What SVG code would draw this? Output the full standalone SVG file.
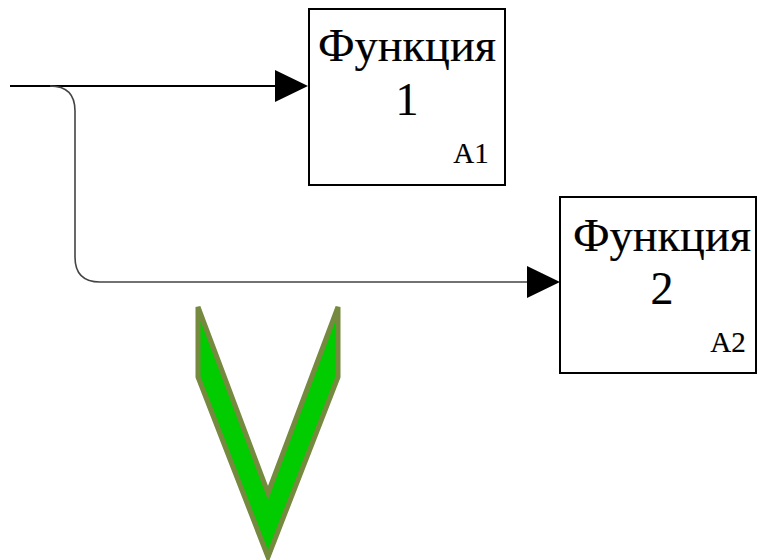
<svg xmlns="http://www.w3.org/2000/svg" width="757" height="560" viewBox="0 0 757 560">
<style>
.box{fill:#fff;stroke:#000;stroke-width:2}
.t{font-family:'Liberation Serif','DejaVu Serif',serif;fill:#000;text-anchor:middle;stroke:#000;stroke-width:0.2}
.big{font-size:46px}
.small{font-size:29px}
.ah{fill:#000}
</style>
<rect width="757" height="560" fill="#fff"/>
<g id="connectors">
<path d="M10,86 H276" fill="none" stroke="#000" stroke-width="2"/>
<polygon class="ah" points="275,70 308,86 275,102"/>
<path d="M50,86 Q75,86 75,111 V257 Q75,282 100,282 H528" fill="none" stroke="#444" stroke-width="1.6"/>
<polygon class="ah" points="527,266 560,282 527,298"/>
</g>
<g id="node-a1">
<rect class="box" x="309" y="9" width="196" height="176"/>
<text class="t big" x="407" y="61" textLength="178" lengthAdjust="spacingAndGlyphs">Функция</text>
<text class="t big" x="407" y="115">1</text>
<text class="t small" x="471" y="163">A1</text>
</g>
<g id="node-a2">
<rect class="box" x="560" y="197" width="196" height="176"/>
<text class="t big" x="662" y="251" textLength="178" lengthAdjust="spacingAndGlyphs">Функция</text>
<text class="t big" x="662" y="304">2</text>
<text class="t small" x="728" y="352">A2</text>
</g>
<g id="check">
<polygon points="198,307 268,493 338,307 338,377 268,557 198,377" fill="#00cc00" stroke="#758a3f" stroke-width="5" stroke-linejoin="miter"/>
</g>
</svg>
